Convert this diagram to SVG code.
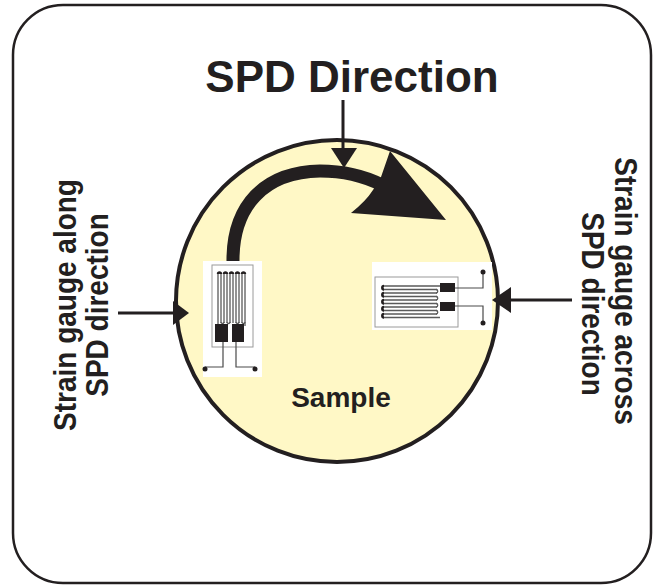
<svg xmlns="http://www.w3.org/2000/svg" width="653" height="585" viewBox="0 0 653 585">
  <style>
    .lbl { font-family: "Liberation Sans", Arial, sans-serif; font-weight: bold; fill: #231f20; }
    .side { font-size: 28px; }
    .ink { fill: #231f20; }
    .line { stroke: #231f20; stroke-width: 3; fill: none; }
    .grid { stroke: #5a5a5a; stroke-width: 1.3; fill: none; }
    .lead { stroke: #4a4a4a; stroke-width: 1.2; fill: none; }
    .frame { fill: #ffffff; stroke: #9a9a9a; stroke-width: 1; }
  </style>

  <rect width="653" height="585" fill="#ffffff"/>
  <!-- outer rounded panel -->
  <rect x="13" y="5" width="638" height="578" rx="50" ry="50" fill="#ffffff" stroke="#231f20" stroke-width="2.5"/>

  <!-- sample disc -->
  <g id="sample">
    <circle cx="337" cy="301" r="161" fill="#fff8c6" stroke="#231f20" stroke-width="4"/>
    <text class="lbl" x="341" y="407" font-size="28" text-anchor="middle">Sample</text>
  </g>

  <g id="title">
    <text class="lbl" x="352" y="92" font-size="44" text-anchor="middle">SPD Direction</text>
  </g>

  <g id="connectors">
    <!-- curved rotation arrow -->
    <path d="M233 263 C232 205 265 172 320 171 C345 171 364 176 382 185" stroke="#231f20" stroke-width="13" fill="none"/>
    <path class="ink" d="M390 151 L446 220 L351 213 Q366 201 373 190 L381 177 Z"/>
    <!-- title pointer -->
    <path class="line" d="M343 100 V150"/>
    <path class="ink" d="M331 148 L357 148 L344 168 Z"/>
    <!-- left gauge pointer -->
    <path class="line" d="M118 313 H176"/>
    <path class="ink" d="M173 301 L189 313 L173 325 Z"/>
    <!-- right gauge pointer -->
    <path class="line" d="M572 300 H508"/>
    <path class="ink" d="M511 287 L492 300 L511 313 Z"/>
  </g>

  <!-- gauge aligned with the rotation direction -->
  <g id="gauge-along">
    <rect x="203" y="261" width="59" height="116" fill="#ffffff"/>
    <rect class="frame" x="212" y="265" width="41" height="82"/>
    <path class="grid" d="M218 326 V273 M221 273 V323 M224 323 V273 M227 273 V323 M230 323 V273 M233 273 V323 M236 323 V273 M239 273 V323 M242 323 V273 M245 273 V326"/>
    <path d="M218 274 a1.5 1.5 0 0 1 3 0 M224 274 a1.5 1.5 0 0 1 3 0 M230 274 a1.5 1.5 0 0 1 3 0 M236 274 a1.5 1.5 0 0 1 3 0 M242 274 a1.5 1.5 0 0 1 3 0" stroke="#231f20" stroke-width="2.4" fill="none"/>
    <path d="M221 322 a1.5 1.5 0 0 0 3 0 M227 322 a1.5 1.5 0 0 0 3 0 M236 322 a1.5 1.5 0 0 0 3 0 M242 322 a1.5 1.5 0 0 0 3 0" stroke="#5a5a5a" stroke-width="1.3" fill="none"/>
    <rect class="ink" x="215" y="324" width="13" height="18"/>
    <rect class="ink" x="232" y="324" width="12" height="18"/>
    <path class="lead" d="M223 342 V367 H205 M236 342 V367 H255"/>
    <circle class="ink" cx="205" cy="369" r="2.5"/>
    <circle class="ink" cx="255" cy="369" r="2.5"/>
  </g>

  <!-- gauge across the rotation direction -->
  <g id="gauge-across">
    <rect x="372" y="262" width="120" height="68" fill="#ffffff"/>
    <rect class="frame" x="375" y="277" width="83" height="50"/>
    <path class="grid" d="M440 286 H383 M383 289.5 H437 M437 293 H383 M383 296.5 H437 M437 300 H383 M383 303.5 H437 M437 307 H383 M383 310.5 H437 M437 314 H383 M383 317.5 H440"/>
    <path d="M384 286 a1.75 1.75 0 0 0 0 3.5 M384 293 a1.75 1.75 0 0 0 0 3.5 M384 300 a1.75 1.75 0 0 0 0 3.5 M384 307 a1.75 1.75 0 0 0 0 3.5 M384 314 a1.75 1.75 0 0 0 0 3.5" stroke="#231f20" stroke-width="2.4" fill="none"/>
    <path d="M436 289.5 a1.75 1.75 0 0 1 0 3.5 M436 296.5 a1.75 1.75 0 0 1 0 3.5 M436 303.5 a1.75 1.75 0 0 1 0 3.5 M436 310.5 a1.75 1.75 0 0 1 0 3.5" stroke="#5a5a5a" stroke-width="1.3" fill="none"/>
    <rect class="ink" x="440" y="283" width="15" height="9"/>
    <rect class="ink" x="440" y="302" width="15" height="9"/>
    <path class="lead" d="M455 288 H483 V272 M455 306 H483 V323"/>
    <circle class="ink" cx="483" cy="272" r="2.5"/>
    <circle class="ink" cx="483" cy="323" r="2.5"/>
  </g>

  <g id="label-along">
    <text class="lbl side" text-anchor="middle" transform="translate(76 305) rotate(-90) scale(1 1.1)">Strain gauge along</text>
    <text class="lbl side" text-anchor="middle" transform="translate(108 305) rotate(-90) scale(1 1.1)">SPD direction</text>
  </g>

  <g id="label-across">
    <text class="lbl side" text-anchor="middle" transform="translate(615 291) rotate(90) scale(1 1.1)">Strain gauge across</text>
    <text class="lbl side" text-anchor="middle" transform="translate(582 304) rotate(90) scale(1 1.1)">SPD direction</text>
  </g>
</svg>
